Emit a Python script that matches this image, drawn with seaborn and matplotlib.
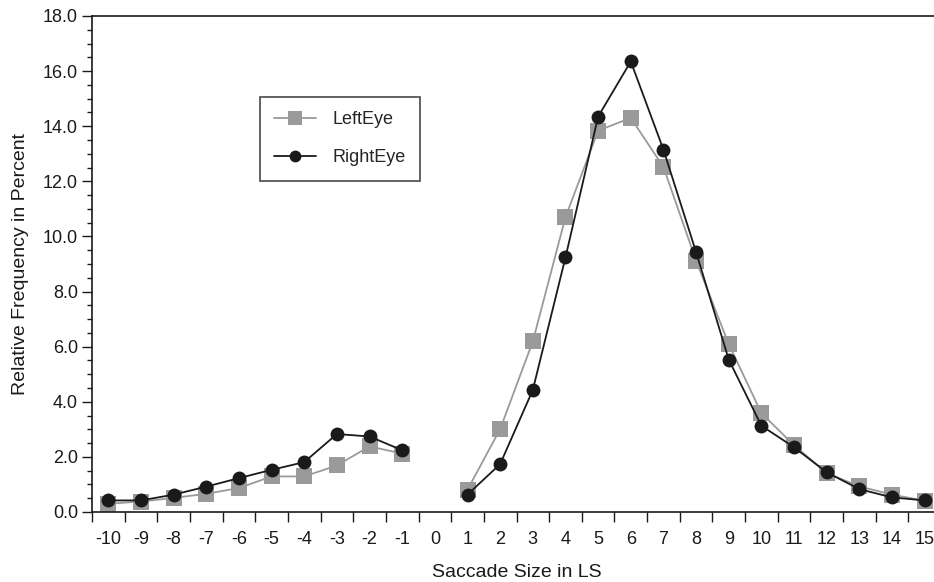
import matplotlib
matplotlib.use("Agg")
import matplotlib.pyplot as plt
from matplotlib.lines import Line2D
from matplotlib.ticker import MultipleLocator, FixedLocator, NullFormatter
import seaborn as sns
import pandas as pd
import numpy as np

# Saccade sizes (in letter spaces); 0 has no observations
sizes_neg = [-10, -9, -8, -7, -6, -5, -4, -3, -2, -1]
sizes_pos = [1, 2, 3, 4, 5, 6, 7, 8, 9, 10, 11, 12, 13, 14, 15]

left_neg = [0.30, 0.38, 0.51, 0.66, 0.87, 1.29, 1.29, 1.69, 2.38, 2.12]
left_pos = [0.81, 3.01, 6.19, 10.70, 13.84, 14.30, 12.52, 9.12, 6.09, 3.59,
            2.42, 1.41, 0.93, 0.63, 0.41]

right_neg = [0.42, 0.42, 0.63, 0.92, 1.23, 1.53, 1.81, 2.83, 2.74, 2.24]
right_pos = [0.63, 1.74, 4.43, 9.24, 14.35, 16.35, 13.15, 9.43, 5.53, 3.13,
             2.35, 1.44, 0.83, 0.53, 0.42]

x_tick_labels = [str(v) for v in range(-10, 16)]

sns.set_theme(style="ticks")
plt.rcParams["font.family"] = ["Liberation Sans", "DejaVu Sans"]

rows = []
for eye, neg, pos in (("LeftEye", left_neg, left_pos), ("RightEye", right_neg, right_pos)):
    for s, v in zip(sizes_neg, neg):
        rows.append({"size": s, "freq": v, "eye": eye, "segment": "neg"})
    for s, v in zip(sizes_pos, pos):
        rows.append({"size": s, "freq": v, "eye": eye, "segment": "pos"})
df = pd.DataFrame(rows)

gray = "#9a9a9a"
black = "#1a1a1a"

fig = plt.figure(figsize=(9.34, 5.82), dpi=100)
ax = fig.add_axes([92 / 934, 70 / 582, 849 / 934, 496 / 582])

sns.lineplot(data=df[df.eye == "LeftEye"], x="size", y="freq", units="segment",
             estimator=None, color=gray, linewidth=1.3, marker="s",
             markersize=12, markeredgewidth=0, markerfacecolor=gray, ax=ax,
             legend=False, sort=True)
sns.lineplot(data=df[df.eye == "RightEye"], x="size", y="freq", units="segment",
             estimator=None, color=black, linewidth=1.3, marker="o",
             markersize=10, markeredgewidth=0, markerfacecolor=black, ax=ax,
             legend=False, sort=True)

ax.set_xlim(-10.5, 15.5)
ax.set_ylim(0, 18)

# tick marks sit between the size bins, labels are centred on the bins
ax.xaxis.set_major_locator(FixedLocator(np.arange(-10.5, 16.0, 1.0)))
ax.xaxis.set_major_formatter(NullFormatter())
ax.set_xticks(np.arange(-10, 16), labels=x_tick_labels, minor=True)
ax.tick_params(axis="x", which="major", length=7, width=1.0, direction="out", color=black)
ax.tick_params(axis="x", which="minor", length=0, labelsize=13, pad=14, labelcolor=black)

ax.yaxis.set_minor_locator(MultipleLocator(0.5))
ax.set_yticks(np.arange(0, 18.1, 2))
ax.set_yticklabels([f"{v:.1f}" for v in np.arange(0, 18.1, 2)])
ax.tick_params(axis="y", which="major", length=7, width=1.0, direction="out",
               labelsize=13, pad=3, color=black, labelcolor=black)
ax.tick_params(axis="y", which="minor", length=3.5, width=1.0, direction="out", color=black)

for side in ("left", "bottom", "top", "right"):
    ax.spines[side].set_visible(True)
    ax.spines[side].set_color(black)
    ax.spines[side].set_linewidth(1.2)

ax.set_xlabel("Saccade Size in LS", fontsize=14, color=black, labelpad=11)
ax.set_ylabel("Relative Frequency in Percent", fontsize=14, color=black, labelpad=10)

handles = [
    Line2D([], [], color=gray, linewidth=1.3, marker="s", markersize=9.5,
           markeredgewidth=0, markerfacecolor=gray),
    Line2D([], [], color=black, linewidth=1.3, marker="o", markersize=8.5,
           markeredgewidth=0, markerfacecolor=black),
]
leg = ax.legend(handles, ["LeftEye", "RightEye"], loc="upper left",
                bbox_to_anchor=(260 / 934, 1 - 97 / 582), bbox_transform=fig.transFigure,
                frameon=True, fancybox=False, edgecolor=black, fontsize=13,
                handlelength=2.3, handletextpad=0.9, borderpad=0.8, labelspacing=1.15,
                borderaxespad=0)
leg.get_frame().set_linewidth(1.2)

fig.savefig("out.png", dpi=100)
